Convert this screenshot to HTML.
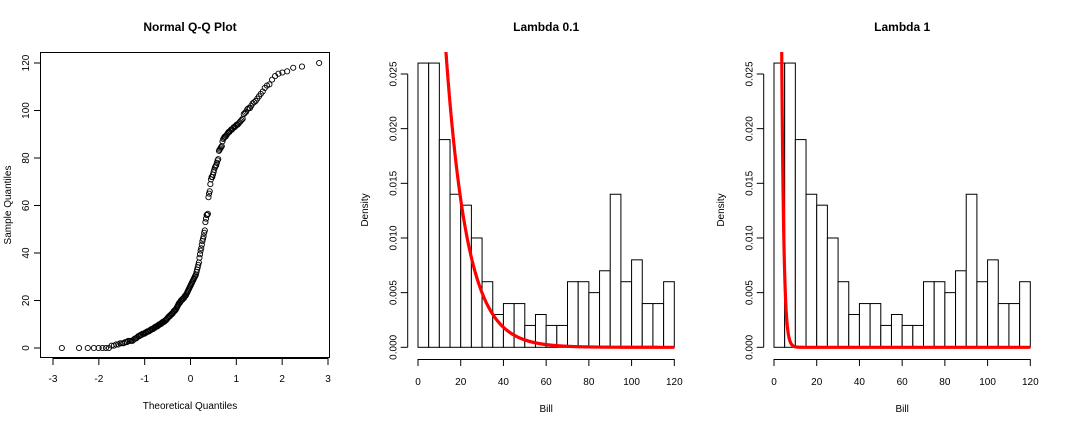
<!DOCTYPE html>
<html><head><meta charset="utf-8"><style>
body{margin:0;background:#fff;}
svg{display:block;font-family:"Liberation Sans",Arial,sans-serif;}
</style></head><body>
<svg id="c" width="1067" height="424"></svg>
<script>
const sampleValues=[0,0,0,0,0,0,0,0,1,1,1.5,1.5,2,2,2,2.5,2.5,3,3,3,3,3.5,4,4,4.5,5,
5,5.5,5.5,6,6,6,6.5,6.5,7,7,7,7.5,7.5,8,8,8,8.5,8.5,9,9,9,9.5,9.5,10,10,10,
10.5,10.5,11,11,11,11.5,11.5,12,12,12.5,13,13,13.5,13.5,14,14,14.5,14.5,15,
15.5,15.5,16,16,16.5,17,17.5,18,18.5,19,19,19.5,20,20,
20.5,20.5,21,21,21.5,22,22,22.5,23,23.5,24,24.5,25,
25.5,26,26.5,27,27.5,28,28.5,29,29.5,30,
30.5,31,32,33,34,35,36,38,39.5,41,42,43.5,45,46,47,48.5,49.5,53,54.5,56,56,56.5,63.5,65,66,69,
71,72,72,73,74,75,76,76.5,77,78,79,79.5,83,83.5,84,84.5,85,87,88,88.5,89,89,89.5,90,
90.5,91,91,91.5,92,92,92.5,93,93,93.5,94,94,94.5,95,95.5,96,96.5,98.5,99,99.5,
100.5,101,101,102,103,103.5,104,105,106,107,108,109.5,110.5,111,113,114.5,115.5,116,116.5,118,118.5,120];
const binStarts=[0,5,10,15,20,25,30,35,40,45,50,55,60,65,70,75,80,85,90,95,100,105,110,115];
const densities=[0.026,0.026,0.019,0.014,0.013,0.010,0.006,0.003,0.004,0.004,0.002,0.003,0.002,0.002,0.006,0.006,0.005,0.007,0.014,0.006,0.008,0.004,0.004,0.006];
const qqXTicks=[-3,-2,-1,0,1,2,3];
const qqYTicks=[0,20,40,60,80,100,120];
const histXTicks=[0,20,40,60,80,100,120];
const histYTicks=[0,0.005,0.010,0.015,0.020,0.025];
const histYLabels=["0.000","0.005","0.010","0.015","0.020","0.025"];
const lambdas=[0.1,1];

const NS="http://www.w3.org/2000/svg";
const svg=document.getElementById('c');
function mk(tag,attrs,parent,text){const e=document.createElementNS(NS,tag);for(const k in attrs)e.setAttribute(k,attrs[k]);if(text!==undefined)e.textContent=text;(parent||svg).appendChild(e);return e;}

function qnorm(p){const a=[-39.69683028665376,220.9460984245205,-275.9285104469687,138.357751867269,-30.66479806614716,2.506628277459239],b=[-54.47609879822406,161.5858368580409,-155.6989798598866,66.80131188771972,-13.28068155288572],c=[-0.007784894002430293,-0.3223964580411365,-2.400758277161838,-2.549732539343734,4.374664141464968,2.938163982698783],d=[0.007784695709041462,0.3224671290700398,2.445134137142996,3.754408661907416];const pl=0.02425;let q,r;if(p<pl){q=Math.sqrt(-2*Math.log(p));return(((((c[0]*q+c[1])*q+c[2])*q+c[3])*q+c[4])*q+c[5])/((((d[0]*q+d[1])*q+d[2])*q+d[3])*q+1);}if(p>1-pl){q=Math.sqrt(-2*Math.log(1-p));return-(((((c[0]*q+c[1])*q+c[2])*q+c[3])*q+c[4])*q+c[5])/((((d[0]*q+d[1])*q+d[2])*q+d[3])*q+1);}q=p-0.5;r=q*q;return(((((a[0]*r+a[1])*r+a[2])*r+a[3])*r+a[4])*r+a[5])*q/(((((b[0]*r+b[1])*r+b[2])*r+b[3])*r+b[4])*r+1);}

const defs=mk('defs',{});
const cpA=mk('clipPath',{id:'clipTop'},defs);
mk('rect',{x:0,y:52,width:1067,height:372},cpA);

// ---- Panel 1: QQ ----
const g1=mk('g',{});


const qx=v=>190.5+v*45.83, qy=v=>348-v*(285/120);
let t=mk('text',{x:190,y:31,'text-anchor':'middle','font-size':12,'font-weight':'bold'},g1,'Normal Q-Q Plot');

const box=mk('rect',{x:40.5,y:52.5,width:289,height:305,fill:'none',stroke:'#000'},g1);

mk('line',{x1:qx(-3),x2:qx(3),y1:358.5,y2:358.5,stroke:'#000'},g1);
qqXTicks.forEach(v=>{mk('line',{x1:qx(v),x2:qx(v),y1:358,y2:365,stroke:'#000'},g1);
 const l=mk('text',{x:qx(v),y:382,'text-anchor':'middle','font-size':10},g1,String(v));
 });
mk('line',{x1:40.5,x2:40.5,y1:qy(0),y2:qy(120),stroke:'#000'},g1);
qqYTicks.forEach(v=>{mk('line',{x1:34,x2:40.5,y1:qy(v),y2:qy(v),stroke:'#000'},g1);
 const l=mk('text',{x:0,y:0,'text-anchor':'middle','font-size':10,transform:`translate(29,${qy(v)}) rotate(-90)`},g1,String(v));
 });
t=mk('text',{x:190,y:409,'text-anchor':'middle','font-size':10},g1,'Theoretical Quantiles');

t=mk('text',{x:0,y:0,'text-anchor':'middle','font-size':10,transform:'translate(11,205) rotate(-90)'},g1,'Sample Quantiles');

const sorted=sampleValues.slice().sort((a,b)=>a-b);const n=sorted.length;
sorted.forEach((v,i)=>{const p=(i+0.5)/n;
 const c=mk('circle',{cx:qx(qnorm(p)),cy:qy(v),r:2.6,fill:'none',stroke:'#000','stroke-width':0.9},g1);
 });

// ---- Histogram panels ----
function hist(off,lambda,title,nm){
 const g=mk('g',{});
 
 
 const hx=v=>off+418+v*(256.3/120), hy=v=>347.3-v*(273.3/0.025);
 let tt=mk('text',{x:hx(60),y:31,'text-anchor':'middle','font-size':12,'font-weight':'bold'},g,title);
 
 binStarts.forEach((b,i)=>{const r=mk('rect',{x:hx(b),y:hy(densities[i]),width:hx(b+5)-hx(b),height:hy(0)-hy(densities[i]),fill:'#fff',stroke:'#000','stroke-width':1},g);
  });
 mk('line',{x1:hx(0),x2:hx(120),y1:359.5,y2:359.5,stroke:'#000'},g);
 histXTicks.forEach(v=>{mk('line',{x1:hx(v),x2:hx(v),y1:359,y2:366,stroke:'#000'},g);
  const l=mk('text',{x:hx(v),y:385,'text-anchor':'middle','font-size':10},g,String(v));
  });
 const ax=off+407.7;
 mk('line',{x1:ax,x2:ax,y1:hy(0),y2:hy(0.025),stroke:'#000'},g);
 histYTicks.forEach((v,i)=>{mk('line',{x1:ax-7,x2:ax,y1:hy(v),y2:hy(v),stroke:'#000'},g);
  const l=mk('text',{x:0,y:0,'text-anchor':'middle','font-size':10,transform:`translate(${ax-11},${hy(v)}) rotate(-90)`},g,histYLabels[i]);
  });
 tt=mk('text',{x:hx(60),y:412,'text-anchor':'middle','font-size':10},g,'Bill');
 
 tt=mk('text',{x:0,y:0,'text-anchor':'middle','font-size':10,transform:`translate(${off+368},210) rotate(-90)`},g,'Density');
 
 let d='';for(let k=0;k<=12000;k++){const x=k*0.01;const y=lambda*Math.exp(-lambda*x);let py=hy(y);if(py<40)py=40;d+=(d?'L':'M')+hx(x).toFixed(2)+','+py.toFixed(2);}
 const cp=mk('path',{d:d,fill:'none',stroke:'#f00','stroke-width':3.2,'clip-path':'url(#clipTop)'},g);
 
}
hist(0,lambdas[0],'Lambda 0.1','lambda-0.1-panel');
hist(356,lambdas[1],'Lambda 1','lambda-1-panel');
</script>
</body></html>
